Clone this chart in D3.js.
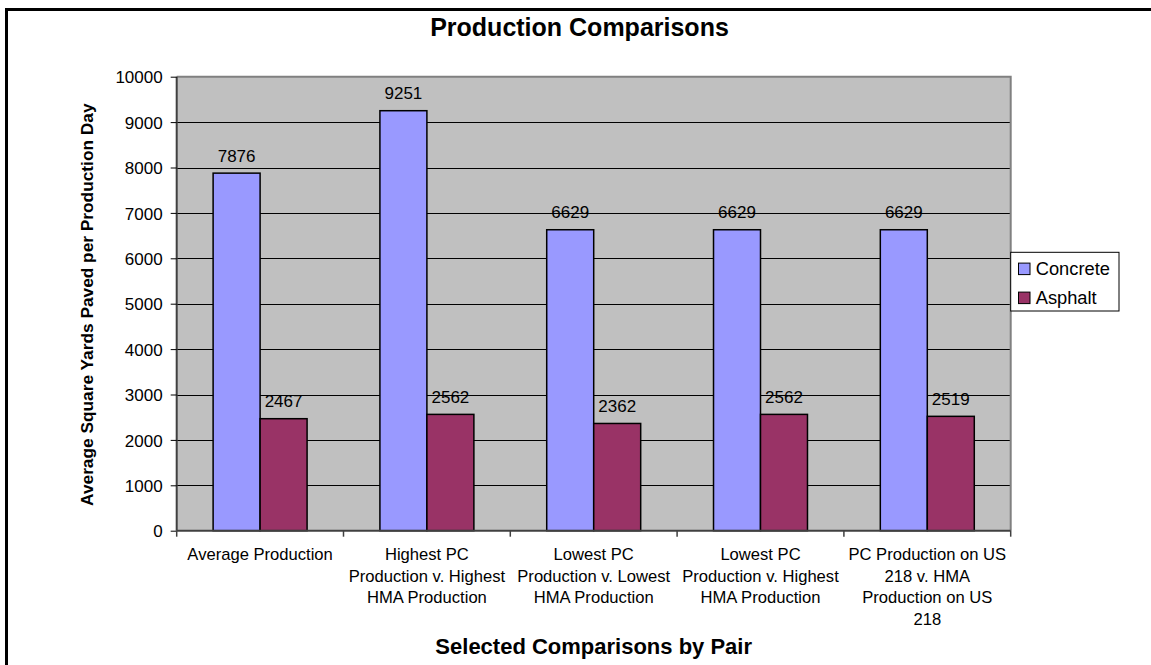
<!DOCTYPE html>
<html>
<head>
<meta charset="utf-8">
<script src="https://cdn.jsdelivr.net/npm/d3@7"></script>
<style>
  html, body { margin: 0; padding: 0; background: #fff; }
  svg { display: block; font-family: "Liberation Sans", Arial, sans-serif; }
</style>
</head>
<body>
<svg id="chart" width="1151" height="665"></svg>
<script>
// Comparison categories, each label already split into its wrapped lines
const categories = [
  "Average Production",
  "Highest PC Production v. Highest HMA Production",
  "Lowest PC Production v. Lowest HMA Production",
  "Lowest PC Production v. Highest HMA Production",
  "PC Production on US 218 v. HMA Production on US 218"
];
const categoryLines = [
  ["Average Production"],
  ["Highest PC", "Production v. Highest", "HMA Production"],
  ["Lowest PC", "Production v. Lowest", "HMA Production"],
  ["Lowest PC", "Production v. Highest", "HMA Production"],
  ["PC Production on US", "218 v. HMA", "Production on US", "218"]
];
const seriesNames = ["Concrete", "Asphalt"];
const concrete = [7876, 9251, 6629, 6629, 6629];
const asphalt = [2467, 2562, 2362, 2562, 2519];
const seriesColors = ["#9999FF", "#993366"];
const yTicks = [0, 1000, 2000, 3000, 4000, 5000, 6000, 7000, 8000, 9000, 10000];

const svg = d3.select("#chart");
const W = 1151, H = 665;
const plot = { left: 176.7, right: 1010.7, top: 76.7, bottom: 530.7 };

// Outer chart frame (right and bottom edges run off the page)
svg.append("rect")
  .attr("x", 6.5).attr("y", 9.5)
  .attr("width", W + 10).attr("height", H + 10)
  .attr("fill", "#fff").attr("stroke", "#000").attr("stroke-width", 3);

const x0 = d3.scaleBand().domain(categories).range([plot.left, plot.right]).padding(0);
const x1 = d3.scaleBand().domain(seriesNames).range([0, x0.bandwidth()])
  .paddingInner(0).paddingOuter(0.775);
const y = d3.scaleLinear().domain([0, 10000]).range([plot.bottom, plot.top]);

// Plot background
svg.append("rect")
  .attr("x", plot.left).attr("y", plot.top)
  .attr("width", plot.right - plot.left).attr("height", plot.bottom - plot.top)
  .attr("fill", "#C0C0C0");

// Horizontal gridlines
svg.append("g").selectAll("line")
  .data(yTicks.filter(t => t > 0 && t < 10000))
  .join("line")
  .attr("x1", plot.left).attr("x2", plot.right)
  .attr("y1", d => Math.round(y(d)) + 0.5).attr("y2", d => Math.round(y(d)) + 0.5)
  .attr("stroke", "#000").attr("stroke-width", 1);

// Top and right plot border
svg.append("path")
  .attr("d", `M${plot.left},${plot.top}H${plot.right}V${plot.bottom}`)
  .attr("fill", "none").attr("stroke", "#808080").attr("stroke-width", 2);

// Bars
const rows = categories.map((c, i) => ({ cat: c, vals: [concrete[i], asphalt[i]] }));
const groups = svg.append("g").selectAll("g")
  .data(rows).join("g")
  .attr("transform", d => `translate(${x0(d.cat)},0)`);

groups.selectAll("rect")
  .data(d => d.vals.map((v, k) => ({ key: seriesNames[k], v, k })))
  .join("rect")
  .attr("x", d => x1(d.key))
  .attr("y", d => y(d.v))
  .attr("width", x1.bandwidth())
  .attr("height", d => y(0) - y(d.v))
  .attr("fill", d => seriesColors[d.k])
  .attr("stroke", "#000").attr("stroke-width", 1.5);

// Value labels above bars
groups.selectAll("text")
  .data(d => d.vals.map((v, k) => ({ key: seriesNames[k], v })))
  .join("text")
  .attr("x", d => x1(d.key) + x1.bandwidth() / 2)
  .attr("y", d => y(d.v) - 11.5)
  .attr("text-anchor", "middle")
  .attr("font-size", 17)
  .attr("fill", "#000")
  .text(d => d.v);

// Y axis
const yAxis = d3.axisLeft(y).tickValues(yTicks).tickSize(6).tickPadding(8).tickFormat(d3.format("d"));
const gy = svg.append("g").attr("transform", `translate(${plot.left},0)`).call(yAxis);
gy.select(".domain").attr("stroke", "#404040").attr("stroke-width", 2).attr("d", `M0,${plot.top}V${plot.bottom}`);
gy.selectAll(".tick line").attr("stroke", "#000");
gy.selectAll(".tick text").attr("font-size", 17).attr("font-family", "Liberation Sans, Arial, sans-serif").attr("fill", "#000").attr("dy", "0.36em");

// X axis with tick marks on category boundaries
const gx = svg.append("g").attr("transform", `translate(0,${plot.bottom})`);
gx.append("line")
  .attr("x1", plot.left).attr("x2", plot.right)
  .attr("stroke", "#404040").attr("stroke-width", 2);
const boundaries = categories.map(c => x0(c)).concat([x0(categories[categories.length - 1]) + x0.bandwidth()]);
gx.selectAll("line.tick").data(boundaries).join("line")
  .attr("class", "tick")
  .attr("x1", d => d).attr("x2", d => d)
  .attr("y1", 0).attr("y2", 6)
  .attr("stroke", "#404040").attr("stroke-width", 1.5);

// Category labels
const catText = svg.append("g").selectAll("text")
  .data(categories).join("text")
  .attr("x", d => x0(d) + x0.bandwidth() / 2)
  .attr("y", 560)
  .attr("text-anchor", "middle")
  .attr("font-size", 16.6)
  .attr("fill", "#000");
catText.each(function (d, i) {
  d3.select(this).selectAll("tspan")
    .data(categoryLines[i]).join("tspan")
    .attr("x", x0(d) + x0.bandwidth() / 2)
    .attr("dy", (l, j) => j === 0 ? 0 : 21.6)
    .text(l => l);
});

// Titles
svg.append("text")
  .attr("x", 579.5).attr("y", 35.5)
  .attr("text-anchor", "middle")
  .attr("font-size", 25).attr("font-weight", "bold")
  .text("Production Comparisons");

svg.append("text")
  .attr("x", (plot.left + plot.right) / 2).attr("y", 654)
  .attr("text-anchor", "middle")
  .attr("font-size", 22).attr("font-weight", "bold")
  .text("Selected Comparisons by Pair");

svg.append("text")
  .attr("transform", `translate(93,${(plot.top + plot.bottom) / 2 + 1}) rotate(-90)`)
  .attr("text-anchor", "middle")
  .attr("font-size", 17.3).attr("font-weight", "bold")
  .text("Average Square Yards Paved per Production Day");

// Legend
const legend = svg.append("g").attr("transform", "translate(1010.7,252.3)");
legend.append("rect")
  .attr("x", 0).attr("y", 0).attr("width", 108.3).attr("height", 58.7)
  .attr("fill", "#fff").attr("stroke", "#000").attr("stroke-width", 1);
seriesNames.forEach((name, i) => {
  const row = legend.append("g").attr("transform", `translate(0,${i * 29})`);
  row.append("rect")
    .attr("x", 7.8).attr("y", 10.8).attr("width", 11.5).attr("height", 11.5)
    .attr("fill", seriesColors[i]).attr("stroke", "#000").attr("stroke-width", 1);
  row.append("text")
    .attr("x", 25).attr("y", 23)
    .attr("font-size", 18.3)
    .attr("fill", "#000")
    .text(name);
});
</script>
</body>
</html>
